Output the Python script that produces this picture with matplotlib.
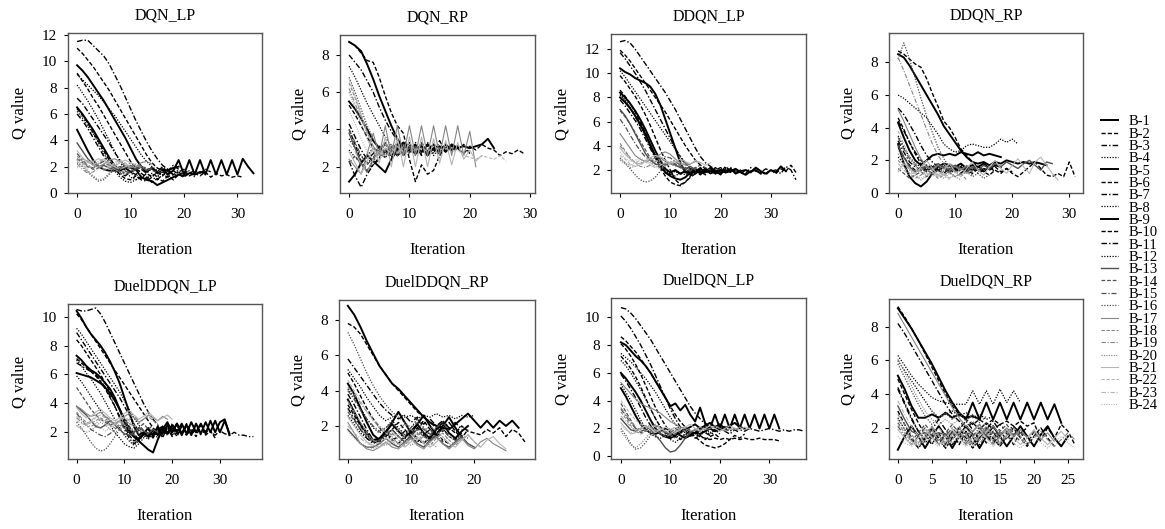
import matplotlib
matplotlib.use("Agg")
import matplotlib.pyplot as plt

# ---------------- data (Q value per iteration) ----------------

dqn_lp = [
    [9.7,9.3,8.8,8.2,7.6,7.0,6.3,5.6,4.9,4.2,3.4,2.6,2.0,1.6,1.9,1.5,1.8,1.4,1.7,2.5,1.4,2.5,1.4,2.5,1.4,2.5,1.4,2.5,1.4,2.5,1.4,2.6,2.0,1.5],
    [11.0,10.6,10.1,9.6,9.0,8.4,7.8,7.1,6.4,5.7,5.0,4.3,3.6,2.9,2.3,1.9,1.7,1.5,1.7,1.4,1.6,1.3,1.5,1.3,1.6,1.2,1.5,1.3,1.4,1.2,1.3,1.2],
    [11.5,11.6,11.6,11.2,10.8,10.4,9.8,9.0,8.2,7.3,6.4,5.5,4.7,3.9,3.2,2.6,2.1,1.8,1.9,1.6,1.8,1.5,1.7,1.5,1.8,1.6],
    [9.0,8.6,8.2,7.8,7.4,6.9,6.4,5.9,5.3,4.7,4.1,3.5,2.9,2.4,2.0,1.7,1.5,1.8,1.3,1.6,1.4,1.7,1.2],
    [4.8,4.0,3.2,2.5,2.0,1.8,1.7,1.7,1.8,2.0,1.9,1.8,2.0,1.7,1.9,1.6,1.8,1.7,1.9,2.0],
    [9.1,8.5,7.9,7.2,6.6,5.9,5.2,4.5,3.8,3.1,2.4,1.9,1.5,1.2,0.8,1.1,0.9,1.3,1.0,1.4,1.2,1.5],
    [7.2,6.8,6.2,5.6,5.0,4.4,3.8,3.1,2.5,2.0,1.6,1.3,1.0,0.9,1.2,1.0,1.4,1.2,1.5],
    [8.2,7.6,7.0,6.3,5.6,4.8,4.0,3.2,2.4,1.7,1.2,1.0,1.3,1.1,1.5,1.2,1.6,1.4],
    [6.5,6.0,5.4,4.8,4.1,3.4,2.7,2.1,1.7,1.9,1.6,1.8,1.2,1.0,0.9,0.6,0.8,1.0,1.2,1.4,1.3,1.5,1.4,1.6,1.5],
    [6.4,5.9,5.3,4.6,3.9,3.2,2.5,1.9,1.4,1.1,1.0,1.3,1.1,1.5,1.2,1.6,1.3,1.7,1.4,1.6],
    [6.0,5.5,4.9,4.2,3.5,2.8,2.2,1.8,1.5,1.3,1.6,1.4,1.8,1.5,1.9,1.6,2.0,1.7,2.1,1.8],
    [6.2,5.7,5.1,4.5,3.8,3.0,2.3,1.7,1.2,0.9,0.8,1.0,1.2,1.1,1.4,1.3,1.6],
    [3.8,3.2,2.6,2.2,2.0,2.1,1.9,1.8,2.0,1.9,2.1,1.8,2.0,1.7,1.9],
    [2.6,2.3,2.0,1.8,1.9,2.1,2.2,2.0,1.7,1.5,1.6,1.8,2.0,1.9,1.7,1.6,1.8],
    [3.0,2.5,2.1,1.9,2.2,2.4,2.2,1.9,1.6,1.4,1.6,1.9,2.1],
    [2.3,2.0,1.6,1.2,0.9,1.0,1.4,1.8,2.0,1.8,1.5,1.3,1.5],
    [2.5,2.6,2.4,2.1,2.0,2.2,2.5,2.6,2.4,2.1,1.9,2.0,2.3,2.4,2.2],
    [2.8,2.4,2.0,1.9,2.2,2.6,2.5,2.1,1.8,2.0,2.3,2.1,1.9],
    [2.2,1.8,1.5,1.6,1.9,2.2,2.1,1.8,1.6,1.7,2.0,2.2,2.0,1.8],
    [2.6,2.2,1.7,1.3,1.0,1.1,1.5,2.0,2.4,2.2,1.8,1.6],
    [3.2,2.7,2.3,2.4,2.6,2.5,2.2,2.0,2.3,2.5,2.3,2.1],
    [2.0,2.2,2.5,2.4,2.1,1.8,2.0,2.3,2.5,2.3,2.0],
    [2.4,2.1,1.9,2.1,2.4,2.6,2.3,2.0,1.8,2.0,2.2],
    [1.9,2.1,2.3,2.2,1.9,1.7,1.9,2.2,2.4,2.1,1.9],
]

dqn_rp = [
    [8.7,8.5,8.2,7.5,6.7,5.8,5.0,4.2,3.5,3.0,2.9,3.1,2.8,3.2,2.9,3.1,2.8,3.2,3.0,3.1,3.0,3.1,3.2,3.5,3.0],
    [8.7,8.5,8.1,7.7,7.6,6.8,5.8,4.9,4.2,3.8,2.4,1.2,2.1,1.6,1.8,2.6,3.2,2.8,3.0,2.7,3.1,2.9,3.2,3.0,2.9,2.6,2.8,2.7,2.9,2.7],
    [8.0,7.6,7.2,6.6,6.0,5.2,4.5,3.9,3.4,3.0,2.8,3.2,2.6,3.3,2.7,3.4,2.8,3.1,2.9,3.2,2.7],
    [7.4,6.8,6.1,5.4,4.8,4.2,3.6,3.1,2.8,3.2,2.7,3.3,2.8,3.1,2.6,3.0,2.9],
    [5.5,5.1,4.6,4.0,3.4,3.0,2.8,3.0,2.6,2.9,3.2,2.7,3.1,2.6,3.0,2.8,3.2,2.9,3.1],
    [5.3,4.8,4.2,3.6,3.0,2.7,2.5,2.9,3.2,2.6,3.0,2.7,3.3,2.8,3.1,2.6,3.0],
    [4.3,3.6,2.9,2.4,2.7,3.1,2.8,2.5,3.0,3.3,2.8,3.0,2.7,3.2,2.9],
    [2.9,2.5,2.2,2.6,3.0,2.8,3.2,2.7,3.1,2.9,3.3,2.6,3.0],
    [1.2,1.6,2.2,2.6,2.3,2.0,1.7,2.4,2.9,3.3,3.0,2.7,3.1,2.8,3.2,2.9,3.0,3.1],
    [4.0,3.2,2.3,1.8,2.1,2.5,2.9,2.6,3.0,2.8,3.2,2.9,3.1,2.7,3.0],
    [2.3,1.5,0.9,1.6,2.1,2.4,2.8,2.6,3.0,2.7,3.1,2.8],
    [3.5,3.0,2.6,2.2,2.5,2.9,3.3,2.8,3.1,2.6,3.0,3.2],
    [3.8,3.0,2.2,1.7,2.4,2.9,3.3,2.8,3.1,2.7,3.0,2.8,3.2],
    [2.2,2.6,2.1,1.8,2.3,2.8,3.2,2.9,3.3,2.7,3.1,2.8,3.0,2.9],
    [4.0,3.3,2.6,2.1,2.5,2.9,2.7,3.0,2.8,3.2,2.9,3.1,2.7],
    [6.8,6.0,5.1,4.2,3.5,3.0,2.6,2.9,3.2,2.7,3.0,2.8,3.3,2.9],
    [2.4,2.0,1.6,2.7,3.8,2.6,4.2,2.6,4.2,2.6,4.2,2.6,4.2,2.6,4.2,2.6,4.2,2.6,4.2,2.6,3.9,2.0],
    [6.5,5.7,4.8,3.9,3.1,2.6,2.9,3.2,2.8,3.1,2.7,3.0,2.9],
    [6.2,5.4,4.6,3.8,3.1,2.7,2.9,3.2,2.7,3.0,2.8,3.1],
    [6.0,5.2,4.3,3.5,2.8,2.4,2.8,3.1,2.6,2.9,2.7,3.0],
    [2.8,2.2,1.6,2.3,3.0,2.2,3.6,2.0,3.6,2.0,3.6,2.0,3.6,2.0,3.5,2.2,3.4,2.1,3.3,2.4,2.9,2.3,2.6],
    [6.7,5.8,4.8,3.8,3.0,2.6,3.0,2.7,3.1,2.8,3.2,2.9,3.0,2.8,3.1,2.9,3.0,2.8,2.9,2.6,2.5,2.4,2.6,2.5,2.4,2.6,2.3],
    [3.2,2.8,2.1,1.7,2.4,2.9,2.5,3.0,2.7,3.1],
    [5.0,4.3,3.5,2.8,2.3,2.6,3.0,2.7,3.1,2.8],
]

ddqn_lp = [
    [10.4,10.1,9.9,9.6,9.4,9.2,8.9,8.3,7.4,6.2,5.0,3.8,2.6,1.8,2.0,1.7,2.1,1.8,2.2,1.9,2.0,1.8,2.1,1.7,1.9,2.0,1.8,2.2,1.9,1.7,2.0,1.8,2.3,1.9],
    [11.9,11.5,11.0,10.4,9.8,9.2,8.6,8.0,7.4,6.8,6.1,5.4,4.7,4.0,3.4,2.8,2.4,2.1,1.9,2.2,1.8,2.3,1.9,2.1,1.7,2.0,1.8,2.2,1.9,1.6,2.0,1.7,2.1,1.9,2.4,1.8],
    [12.6,12.7,12.5,12.0,11.4,10.8,10.2,9.6,9.0,8.4,7.7,7.0,6.2,5.4,4.6,3.8,3.1,2.6,2.3,2.0,2.2,1.9,2.1,1.8,2.0,1.7,2.2,1.9,1.8,2.1,1.9,2.0,1.7,2.3,2.0,1.2],
    [10.2,9.7,9.1,8.5,7.9,7.3,6.7,6.1,5.5,4.9,4.3,3.7,3.1,2.6,2.2,2.0,1.8,2.1,1.7,2.0,1.8,2.2,1.9],
    [8.4,8.0,7.5,6.9,6.2,5.4,4.5,3.6,2.8,2.1,1.8,2.0,1.7,1.9,1.6,2.0,1.8,2.1,1.9,1.7,2.0,1.8,1.9,2.1,1.8,1.6,1.9,2.0,1.7],
    [9.8,9.3,8.7,8.1,7.4,6.6,5.7,4.7,3.7,2.8,2.0,1.2,0.8,1.0,1.5,1.9,1.6,2.0,1.7,1.9,1.6,2.1,1.8,2.0],
    [11.7,11.2,10.6,10.0,9.3,8.6,7.8,7.0,6.2,5.4,4.6,3.8,3.1,2.5,2.1,1.9,2.2,1.8,2.0,1.7,2.1,1.9,2.2,1.8],
    [8.2,7.7,7.1,6.4,5.6,4.8,3.9,3.1,2.4,1.9,1.7,1.5,1.8,1.6,1.9,2.1,1.8,2.0,1.7,1.9],
    [8.0,7.6,7.1,6.5,5.8,5.0,4.1,3.2,2.4,1.8,1.5,1.3,1.2,1.4,1.8,2.0,1.7,1.9,2.1,1.8,1.7,2.0],
    [8.6,8.1,7.5,6.8,6.0,5.1,4.1,3.1,2.2,1.5,1.0,0.8,0.7,1.0,1.4,1.7,1.9,1.6,2.0,1.8],
    [7.8,7.3,6.7,6.1,5.4,4.6,3.8,3.0,2.3,1.8,1.6,1.9,1.7,2.0,1.8,2.1,1.9,1.6],
    [8.3,7.8,7.2,6.5,5.7,4.9,4.0,3.2,2.5,2.0,1.7,1.9,1.6,2.0,1.8,2.2,1.9,2.1,1.7,2.0,1.8],
    [7.0,6.5,5.8,5.0,4.2,3.4,2.8,2.5,2.4,2.5,2.6,2.4,2.2,2.1,2.3,2.0],
    [6.9,6.4,5.8,5.1,4.4,3.7,3.0,2.5,2.2,2.4,2.6,2.5,2.3,2.1,1.9,2.2,2.4,2.2,2.0],
    [6.2,5.6,4.9,4.2,3.6,3.1,2.8,2.7,2.9,3.1,3.0,2.7,2.4,2.2,2.0,2.2],
    [3.0,2.6,2.1,1.6,1.2,1.0,1.1,1.4,1.9,2.4,2.7,2.5,2.2,2.0,1.9],
    [5.0,4.4,3.8,3.2,2.9,2.7,2.8,3.0,3.3,3.5,3.3,2.9,2.6,2.4,2.5,2.7,2.6],
    [4.2,3.6,3.0,2.6,2.5,2.7,3.0,3.2,3.0,2.7,2.5,2.6,2.8,2.6],
    [4.0,3.5,3.0,2.6,2.3,2.2,2.4,2.7,2.9,2.8,2.5,2.3,2.4,2.6,2.4],
    [2.8,2.5,2.2,2.3,2.6,2.8,2.6,2.3,2.1,2.3,2.6,2.7,2.5],
    [3.8,3.3,2.9,2.6,2.5,2.7,3.0,3.2,3.1,2.8,2.6,2.7,2.9,2.7,2.5,2.8,2.6,2.4,2.6],
    [3.2,2.9,2.5,2.3,2.4,2.7,2.9,2.8,2.5,2.3,2.5,2.7,2.6,2.3],
    [2.9,2.6,2.4,2.6,2.8,2.7,2.4,2.2,2.4,2.6,2.5],
    [3.5,3.0,2.7,2.8,3.0,2.8,2.5,2.6,2.8,2.6,2.4],
]

ddqn_rp = [
    [8.5,8.3,7.8,7.2,6.6,6.0,5.4,4.8,4.1,3.6,3.1,2.6,2.2,1.9,1.8,1.9,1.7,1.9,1.8,2.0,1.9,1.8,1.9,1.8,1.9,1.8,1.7],
    [8.7,8.5,8.2,7.9,7.7,7.0,6.1,5.3,4.4,4.0,3.4,2.7,2.3,1.9,1.6,1.5,1.4,1.6,1.3,1.5,1.2,1.0,1.3,1.6,1.9,1.5,1.1,1.0,1.2,1.0,1.9,1.0],
    [5.2,4.8,4.2,3.6,2.9,2.3,1.9,1.6,1.5,1.7,1.4,1.6,1.3,1.5,1.2,1.4,1.6,1.3],
    [6.0,5.8,5.5,5.2,4.9,4.6,4.1,3.6,3.0,2.7,2.5,2.6,2.9,3.0,2.9,2.8,2.8,3.0,3.3,3.1,3.3,3.0],
    [3.0,1.8,1.0,0.6,0.4,0.7,1.2,1.6,1.8,1.7,1.6,1.8,1.5,1.7,1.6,1.8,1.5,1.7,1.6],
    [4.6,3.9,3.1,2.4,1.8,1.4,1.2,1.4,1.6,1.3,1.5,1.2,1.6,1.4,1.7,1.3,1.5],
    [4.4,3.8,3.1,2.5,2.0,1.7,1.6,1.8,1.5,1.7,1.4,1.6,1.5,1.8,1.4],
    [3.5,2.8,2.2,1.8,1.6,1.4,1.6,1.3,1.5,1.2,1.4,1.6,1.3,1.5],
    [4.3,3.4,2.6,2.0,1.7,2.0,2.3,2.4,2.3,2.4,2.3,2.5,2.4,2.3,2.5,2.3,2.4,2.3,2.2],
    [2.8,2.2,1.7,1.4,1.5,1.3,1.6,1.4,1.2,1.5,1.3,1.6,1.4,1.2,1.5,1.3,1.1,1.4,1.2,1.5,1.3],
    [3.2,2.5,1.9,1.6,1.4,1.5,1.7,1.4,1.6,1.3,1.5,1.7,1.4,1.6,1.3,1.5],
    [2.2,1.8,1.5,1.3,1.6,1.4,1.2,1.5,1.7,1.4,1.6,1.3],
    [2.9,2.2,1.6,1.3,1.4,1.6,1.5,1.8,1.6,1.4,1.7,1.5,1.3,1.6,1.4,1.7,1.5,1.8,1.6,1.9,1.7,1.5,1.8,2.0,1.7,1.4,1.9,1.8],
    [1.5,1.2,0.9,1.1,1.3,1.0,1.2,1.4,1.1,1.3,1.0,1.2,1.4,1.1],
    [3.4,2.7,2.1,1.7,1.5,1.7,1.4,1.6,1.3,1.5,1.7,1.4,1.6,1.3],
    [8.2,9.2,8.2,7.0,5.8,4.7,3.7,2.8,2.1,1.6,1.3,1.1,1.3,1.0,1.2,0.9,1.1],
    [5.1,4.4,3.6,2.8,2.1,1.6,1.4,1.7,1.5,1.8,1.6,1.4,1.7,1.5],
    [2.0,1.6,1.2,0.9,1.1,1.4,1.2,0.9,1.1,1.3,1.0,1.2,0.8],
    [8.3,7.5,6.6,5.7,4.8,3.9,3.0,2.3,1.8,1.5,1.3,1.5,1.2,1.4],
    [2.4,1.9,1.4,1.1,0.8,1.0,1.3,1.1,0.9,1.2,1.0,0.8],
    [1.3,1.8,1.5,1.2,1.6,2.0,1.5,1.1,1.4,1.8,1.3,1.0,1.5,1.9,1.4,1.1,1.6,2.0,1.5,1.2,1.7,2.1,1.6,1.2,1.9,2.2,1.7,1.2,0.8],
    [3.8,3.0,2.2,1.6,1.3,1.1,1.3,1.0,1.2,0.9,1.1],
    [1.8,1.4,1.1,1.3,1.5,1.2,1.0,1.3,1.1,0.9,1.2],
    [2.6,2.0,1.5,1.1,0.9,1.1,1.3,1.0,1.2,0.8],
]

dueldddqn_lp = [
    [7.3,7.0,6.6,6.3,6.1,5.8,5.4,5.0,4.4,3.6,2.7,2.0,1.7,1.4,1.1,0.8,0.6,1.5,2.2,2.7,2.0,2.6,1.9,2.5,1.8,2.6,1.9,2.7,2.0,2.8,2.0,2.8,1.9],
    [10.2,9.8,9.3,8.8,8.3,7.8,7.3,6.8,6.3,5.8,5.3,4.8,4.3,3.8,3.3,2.8,2.3,2.0,2.4,1.8,2.3,1.7,2.4,1.9,2.2,1.7,2.5,1.8,2.1,1.6],
    [10.5,10.4,10.4,10.5,10.6,10.2,9.6,8.9,8.2,7.5,6.8,6.1,5.4,4.7,4.0,3.4,2.9,2.5,2.2,2.0,2.3,1.9,2.1,1.8,2.2,2.0,1.9,2.1,2.0,1.8,2.1,1.9,1.8,2.0,1.8,1.8,1.7,1.7],
    [9.2,8.8,8.3,7.8,7.3,6.8,6.3,5.8,5.3,4.8,4.2,3.6,3.0,2.5,2.1,1.8,2.2,1.9,2.4,2.0,2.6,2.1,2.5],
    [10.4,9.9,9.3,8.8,8.4,8.0,7.5,6.9,6.2,5.4,4.4,3.4,2.4,1.8,2.0,1.7,2.2,1.8,2.4,1.9,2.5,2.0,2.6,1.9,2.7,2.0,2.6,1.9,2.8,2.0,2.7,2.9,1.8],
    [8.4,8.0,7.5,7.0,6.5,6.0,5.4,4.8,4.2,3.6,3.0,2.4,1.9,1.5,1.8,2.2,1.7,2.3,1.6,2.4,1.8,2.5,1.9,2.6,2.0,2.5,1.8],
    [8.9,8.4,7.9,7.4,6.9,6.4,5.9,5.4,4.9,4.4,3.8,3.2,2.6,2.1,1.8,2.0,1.6,2.2,1.8,2.3,1.7,2.2],
    [7.0,6.6,6.1,5.7,5.2,4.7,4.1,3.5,2.9,2.3,1.8,1.4,1.1,1.4,1.8,1.5,2.0,1.6,2.1,1.8],
    [6.1,6.0,5.9,5.8,5.6,5.4,5.1,4.7,4.2,3.6,2.9,2.2,1.7,1.5,1.9,2.3,1.8,2.4,1.9,2.5,2.0,2.6,1.8,2.5],
    [7.1,6.8,6.5,6.2,5.9,5.5,5.0,4.4,3.8,3.1,2.4,1.8,1.4,1.6,2.0,1.7,2.2,1.8,2.4,1.9,2.3],
    [6.8,6.6,6.4,6.2,6.0,5.6,5.1,4.5,3.8,3.0,2.2,1.6,1.2,1.5,1.9,1.6,2.1,1.8,2.2],
    [5.9,5.5,5.0,4.5,4.0,3.5,3.0,2.5,2.0,1.6,1.2,1.0,0.9,1.2,1.6,2.0,1.7,2.1,1.9],
    [3.8,3.5,3.2,2.8,2.4,2.3,2.5,2.8,2.5,2.2,1.9,1.8,2.0,2.3,2.1,1.9,2.2,2.0],
    [5.1,4.6,4.1,3.6,3.2,2.9,2.7,2.5,2.6,2.8,2.5,2.2,2.0,2.3,2.6,2.2,2.5],
    [3.3,2.9,2.5,2.2,2.0,1.8,1.7,1.9,2.2,2.5,2.3,2.0,1.8,2.1,2.3],
    [2.7,2.3,1.8,1.3,0.9,0.7,0.8,1.2,1.7,2.2,2.5,2.4,2.1,1.9,2.2],
    [3.8,3.6,3.3,3.1,3.2,3.4,3.1,2.8,2.6,2.8,3.1,3.3,3.0,2.7,2.9,3.2,3.0,2.8,3.1,2.9],
    [3.4,3.0,2.7,2.6,2.8,3.0,2.8,2.5,2.3,2.5,2.8,2.6,2.4,2.6,2.9,3.1,2.8,2.6],
    [3.0,2.7,2.5,2.4,2.6,2.9,3.1,2.9,2.6,2.4,2.6,2.9,3.1,2.8],
    [2.5,2.2,2.0,2.1,2.4,2.7,2.5,2.2,2.0,2.2,2.5,2.7,2.4],
    [3.7,3.3,3.0,3.1,3.4,3.6,3.3,3.0,2.8,3.0,3.3,3.5,3.2,2.9,3.1,3.4,3.1,2.8,3.0,3.2,2.9],
    [2.8,2.6,2.5,2.7,3.0,3.2,3.0,2.7,2.5,2.7,3.0,2.8],
    [3.1,2.8,2.6,2.8,3.1,2.9,2.6,2.4,2.6,2.9,3.1,2.8,2.5],
    [2.4,2.3,2.5,2.8,2.6,2.3,2.1,2.3,2.6,2.8,2.5,2.3],
]

dueldddqn_rp = [
    [8.8,8.3,7.6,6.8,6.1,5.4,4.9,4.4,4.1,3.7,3.3,2.9,2.5,2.2,2.0,1.9,1.8,2.1,2.4,2.7,2.3,1.9,2.3,1.9,2.3,2.0,2.3,1.9],
    [7.8,7.6,7.2,6.6,6.0,5.4,4.9,4.4,4.0,3.6,3.2,2.8,2.5,2.2,1.9,1.7,1.9,1.6,2.0,1.7,1.6,1.5,1.8,1.6,1.9,1.4,1.8,1.6,1.1],
    [5.8,5.3,4.8,4.3,3.8,3.3,2.9,2.6,2.4,2.6,2.2,2.5,2.1,2.4,2.0,2.3,1.9,2.2,1.8],
    [5.2,4.7,4.2,3.6,3.1,2.6,2.3,2.5,2.7,2.5,2.6,2.4,2.6,2.5,2.7,2.5,2.6,2.4,2.6,2.5,2.6],
    [4.4,3.8,3.0,2.2,1.5,1.2,1.6,2.2,2.8,2.2,1.6,2.1,2.6,2.0,1.5,2.0,2.5,1.9,1.4],
    [5.0,4.4,3.7,3.0,2.4,1.9,1.5,1.8,2.2,1.8,1.4,1.9,2.3,1.8,1.4,1.9,2.2,1.7,1.3,1.8],
    [3.8,3.2,2.5,1.8,1.2,1.1,1.4,1.8,1.4,1.1,1.5,1.9,1.5,1.1,1.6,1.9,1.4,1.2,1.6],
    [4.1,3.6,3.0,2.4,1.9,1.6,1.9,2.3,1.9,1.5,1.9,2.4,1.9,1.5,1.9,2.3,1.8],
    [3.5,2.8,2.1,1.6,1.2,1.3,1.7,2.1,1.7,1.3,1.7,2.1,1.6,1.3,1.8,2.2,1.6,1.3,1.7,2.0],
    [3.2,2.6,2.0,1.5,1.1,1.3,1.6,1.3,1.0,1.4,1.7,1.3,1.0,1.4,1.7,1.2,1.0],
    [3.0,2.4,1.8,1.3,1.0,1.2,1.5,1.2,1.4,1.7,1.3,1.1,1.5,1.8,1.4,1.1],
    [2.6,2.1,1.6,1.3,1.1,1.3,1.6,1.3,1.0,1.4,1.6,1.2,1.0,1.3],
    [1.8,1.4,1.0,0.8,0.8,1.0,1.3,1.0,0.8,1.1,1.4,1.0,0.8,1.2,1.4,1.0,0.8,1.1,1.4,1.0,0.8],
    [2.8,2.3,1.8,1.4,1.1,1.2,1.5,1.8,1.4,1.1,1.5,1.8,1.4,1.2,1.5,1.8,1.4],
    [4.0,3.5,2.9,2.4,2.0,1.7,1.9,2.2,1.8,1.5,1.9,2.2,1.8,1.5,1.9,2.2,1.7],
    [7.3,6.6,5.8,5.0,4.3,3.7,3.2,2.8,2.5,2.2,1.9,1.6,1.4,1.6,1.3,1.1,1.4,1.2,1.5,1.3],
    [2.2,1.6,1.0,0.7,0.6,0.8,1.1,0.8,0.7,1.0,1.3,0.9,0.7,1.1,1.4,1.0,0.7,1.0,1.3,0.9,0.7,1.1,1.3,1.0,0.8,0.6],
    [3.4,2.8,2.2,1.6,1.2,1.0,1.3,1.6,1.2,0.9,1.3,1.6,1.1,0.9,1.3,1.6,1.2,0.9,1.2,1.5,1.1,0.8],
    [4.2,3.8,3.3,2.8,2.4,2.0,1.7,1.5,1.8,2.1,1.8,1.5,1.7,2.0,1.7,1.4],
    [2.9,2.4,1.9,1.5,1.2,1.0,0.9,1.1,1.4,1.1,0.9,1.2,1.4,1.1,0.8],
    [2.5,2.0,1.5,1.1,0.9,0.8,1.0,1.3,1.0,0.8,1.1,1.4,1.0,0.8,1.1,1.4,1.0,0.8,1.2,1.5,1.1,0.8,1.2,1.4,1.0,0.7],
    [4.6,4.0,3.4,2.8,2.3,1.9,1.6,1.4,1.6,1.3,1.5,1.2,1.4],
    [2.0,1.6,1.3,1.0,0.9,1.1,1.3,1.1,0.9,1.2,1.0],
    [1.7,1.3,1.0,0.8,0.7,0.9,1.1,0.9,0.7,1.0,1.2,0.9,0.7],
]

dueldqn_lp = [
    [8.2,8.0,7.6,7.2,6.9,6.5,6.0,5.4,4.8,4.2,3.6,3.8,3.3,3.7,3.0,2.5,3.5,2.4,2.0,3.0,2.0,3.0,2.0,3.0,2.0,3.0,2.0,3.0,2.0,3.0,2.0,3.0,2.0],
    [8.6,8.3,7.9,7.5,7.0,6.5,6.0,5.4,4.8,4.2,3.6,3.0,2.5,2.1,1.8,1.6,1.4,1.3,1.2,1.3,1.2,1.3,1.2,1.3,1.2,1.3,1.2,1.2,1.3,1.2,1.2,1.2,1.1],
    [10.7,10.6,10.3,9.9,9.4,8.9,8.4,7.8,7.2,6.6,6.0,5.4,4.8,4.2,3.6,3.1,2.7,2.3,2.0,1.9,2.1,2.0,1.8,2.0,1.9,1.8,2.0,1.9,1.8,1.9,2.0,1.9,1.8,1.9,1.8,1.9,1.9,1.8],
    [7.4,7.1,6.8,6.4,6.0,5.6,5.1,4.6,4.0,3.4,2.8,2.3,1.9,1.7,1.5,1.8,1.6,2.0,1.7,1.9,1.6],
    [6.0,5.6,5.1,4.6,4.0,3.3,2.6,2.0,1.6,1.4,1.3,1.5,1.7,1.9,2.1,2.3,2.0,2.2,2.4,2.1,2.3,2.0,2.2,2.4,2.1,2.0],
    [7.2,6.8,6.3,5.7,5.0,4.2,3.4,2.7,2.1,1.7,1.5,1.6,1.8,2.0,1.7,1.4,1.1,0.8,0.7,0.6,0.7,0.9,1.2,1.5,1.3,1.6],
    [10.1,9.7,9.2,8.6,8.0,7.3,6.6,5.8,5.0,4.2,3.4,2.7,2.1,1.8,1.6,1.7,1.9,1.7,1.5,1.8,2.0,1.8,1.6,1.9,1.7],
    [6.9,6.5,6.0,5.4,4.8,4.1,3.4,2.7,2.1,1.6,1.2,1.0,1.3,1.6,1.4,1.7,1.5,1.8,1.6,1.9],
    [4.9,4.3,3.6,2.9,2.3,1.9,1.7,1.6,1.8,2.0,1.9,1.7,1.5,1.3,1.5,1.7,1.6,1.8,2.0,1.8,1.9,2.1],
    [8.1,7.7,7.2,6.6,5.9,5.1,4.3,3.5,2.8,2.2,1.7,1.4,1.2,1.4,1.6,1.3,1.5,1.2,1.4,1.6,1.3],
    [5.9,5.4,4.8,4.2,3.5,2.8,2.2,1.8,1.6,1.5,1.4,1.6,1.8,2.0,1.8,1.6,1.9,2.1,1.9],
    [5.2,4.6,4.0,3.3,2.6,2.0,1.6,1.4,1.3,1.5,1.7,1.5,1.3,1.6,1.8,1.6],
    [2.7,2.3,1.9,1.8,2.0,2.2,1.9,1.5,1.1,0.6,0.3,0.4,0.8,1.3,1.7,1.9,1.8],
    [3.8,3.2,2.6,2.0,1.7,1.8,2.0,2.2,2.0,1.7,1.5,1.6,1.9,2.1,1.9],
    [3.4,2.9,2.4,2.0,1.8,1.9,2.1,1.9,1.6,1.5,1.7,2.0,1.8],
    [2.0,1.5,0.9,0.5,0.6,1.0,1.5,1.9,2.1,1.8,1.5,1.3,1.6,1.9],
    [5.3,4.9,4.5,4.1,3.8,3.6,3.5,3.3,3.1,2.8,2.5,2.3,2.1,2.0,1.8,1.9,2.1,1.9,2.0,2.2,2.0,1.8,2.0,1.9,2.1,1.9,2.0],
    [3.2,2.7,2.2,1.8,1.6,1.8,2.1,2.3,2.1,1.8,1.6,1.8,2.0,1.8],
    [3.5,3.0,2.5,2.1,1.9,2.0,2.3,2.1,1.8,1.7,1.9,2.1,1.9],
    [1.8,1.3,0.8,0.6,0.9,1.3,1.7,1.9,1.7,1.4,1.6,1.9,1.7],
    [2.4,2.0,1.6,1.7,2.0,2.2,2.0,1.7,1.9,2.1,1.9,1.7,1.9,2.1,2.3,2.0,1.8,2.0,2.2,2.0,1.8,2.0,2.2,2.0,1.9,2.1,2.0],
    [4.0,3.5,3.0,2.6,2.3,2.1,2.0,2.2,2.0,1.8,1.9,2.1,1.9],
    [2.9,2.5,2.1,1.9,2.0,2.2,2.0,1.8,1.9,2.1,1.9,1.7],
    [2.2,1.9,1.7,1.8,2.0,1.9,1.7,1.8,2.0,1.8],
]

dueldqn_rp = [
    [9.1,8.5,7.9,7.2,6.5,5.8,5.0,4.2,3.5,2.9,2.5,3.5,2.5,3.5,2.5,3.5,2.5,3.5,2.5,3.5,2.5,3.5,2.5,3.4,2.3],
    [9.2,8.6,7.9,7.2,6.4,5.6,4.8,4.0,3.3,2.8,2.5,2.2,2.5,2.2,2.5,2.2,2.4,2.1,2.4,2.1,2.3,1.3,2.0,1.4,2.2,1.8,1.0],
    [8.2,7.6,6.9,6.2,5.5,4.8,4.1,3.4,2.8,2.4,2.0,2.3,1.9,2.3,1.9,2.2,1.8,2.1,1.7,2.0],
    [6.3,5.7,5.1,4.6,4.2,3.8,3.6,3.5,3.4,3.4,3.4,4.2,3.4,4.2,3.4,4.3,3.5,4.2,3.5],
    [5.1,4.3,3.3,2.6,2.6,2.8,2.6,2.9,2.6,2.8,2.6,2.7,2.5],
    [4.9,4.0,3.1,2.3,1.6,1.0,1.7,1.0,1.8,1.0,1.8,1.0,1.8,1.1,1.8,1.0,1.7,1.0,1.8,1.0,1.8,1.2],
    [4.4,3.5,2.6,1.8,1.1,1.6,1.0,1.7,1.0,1.6,1.0,1.7,1.0,1.6,1.0,1.7],
    [6.0,5.4,4.8,4.2,3.6,3.0,2.6,2.8,3.0,2.7,2.9,2.6,2.8,2.5,2.7],
    [0.7,1.5,2.1,1.5,0.8,1.5,2.1,1.5,0.8,1.5,2.1,1.5,0.8,1.5,2.1,1.5,0.9,1.5,2.1,1.5,0.9,1.6,2.1,1.4,0.9,1.5],
    [3.0,2.2,1.4,0.8,1.4,2.0,1.4,0.8,1.4,2.0,1.4,0.8,1.4,2.0,1.4,0.9,1.5,2.0,1.4,0.9,1.5,2.0,1.4,0.9],
    [4.3,3.4,2.5,1.8,1.3,1.9,2.5,1.9,1.3,1.9,2.4,1.9,1.3,1.9,2.4,1.8,1.3,1.9],
    [2.6,1.9,1.3,0.8,1.3,1.8,1.3,0.8,1.3,1.8,1.3,0.8,1.3,1.8,1.3,0.9],
    [3.3,2.5,1.8,1.6,1.7,1.6,1.7,1.6,1.7,1.6,1.7,1.6,1.7,1.6,1.7,1.6,1.8,1.6,1.7,1.5],
    [2.3,1.7,1.2,1.7,2.2,1.7,1.2,1.7,2.2,1.7,1.2,1.8,2.2,1.7,1.2,1.8,2.2,1.6,1.2],
    [2.1,1.5,1.0,1.5,2.0,1.5,1.0,1.5,2.0,1.5,1.0,1.5,2.0,1.5,1.0,1.5],
    [5.8,5.0,4.2,3.4,2.7,2.2,2.6,2.9,2.5,2.9,2.4,2.8,2.3,2.7],
    [8.8,8.1,7.4,6.7,6.0,5.3,4.6,3.9,3.2,2.6,2.1,1.8,2.2,1.7,2.1,1.6,2.0,1.5,1.9,1.4,1.8,1.3,1.7,1.2],
    [2.8,2.2,1.6,1.1,1.6,2.1,1.6,1.1,1.6,2.1,1.6,1.1,1.6,2.1,1.6,1.1,1.6,2.0,1.5,1.0],
    [2.5,1.9,1.4,1.0,1.5,2.0,1.5,1.0,1.5,2.0,1.5,1.0,1.5,2.0,1.5,1.0,1.5,1.9,1.4,1.0,1.4,1.8,1.3,0.9,1.3,1.7,1.3],
    [6.1,5.3,4.5,3.7,3.0,2.5,2.2,2.5,2.2,2.5,2.1,2.4,2.0,2.3],
    [1.9,1.4,1.0,1.4,1.9,1.4,1.0,1.4,1.9,1.4,1.0,1.4,1.9,1.4,1.0,1.4,1.9,1.4,1.0,1.4,1.9,1.4,1.0,1.4,1.8,1.3],
    [2.2,1.7,1.2,0.9,1.3,1.8,1.3,0.9,1.3,1.8,1.3,0.9,1.3,1.8,1.2],
    [3.6,2.8,2.1,1.5,1.1,1.5,2.0,1.5,1.1,1.5,2.0,1.5,1.1,1.5,1.9],
    [1.5,1.1,0.9,1.2,1.6,1.2,0.9,1.2,1.6,1.2,0.9,1.2,1.6,1.2,0.9,1.2,1.6,1.1,0.8,1.2,1.5,1.1,0.8,1.2,1.5,1.1,0.8],
]

titles = ["DQN_LP", "DQN_RP", "DDQN_LP", "DDQN_RP",
          "DuelDDQN_LP", "DuelDDQN_RP", "DuelDQN_LP", "DuelDQN_RP"]
panels = [dqn_lp, dqn_rp, ddqn_lp, ddqn_rp, dueldddqn_lp, dueldddqn_rp, dueldqn_lp, dueldqn_rp]
labels = ["B-" + str(i) for i in range(1, 25)]

xticks = [[0,10,20,30]]*5 + [[0,10,20], [0,10,20,30], [0,5,10,15,20,25]]
yticks = [[0,2,4,6,8,10,12], [2,4,6,8], [2,4,6,8,10,12], [0,2,4,6,8],
          [2,4,6,8,10], [2,4,6,8], [0,2,4,6,8,10], [2,4,6,8]]
xlims = [(-1.7,34.6), (-1.5,30.8), (-1.8,37.0), (-1.6,32.4),
         (-1.8,38.8), (-1.4,29.6), (-2.0,37.4), (-1.3,27.2)]
ylims = [(0,12.15), (0.59,9.07), (0.1,13.24), (0,9.8),
         (0.15,10.88), (0.13,9.13), (-0.2,11.39), (0.15,9.65)]

# axes boxes in pixels: left, top, right, bottom
boxes = [(68,33,262,193), (340,35,535,193), (611,34,806,193), (889,33,1083,193),
         (68,304,262,459), (339,300,535,459), (611,298,806,459), (889,299,1083,459)]

# ---------------- style ----------------
W, H = 1165, 529
plt.rcParams['font.family'] = ['Liberation Serif', 'DejaVu Serif']

colors = ['black']*12 + ['#505050']*4 + ['#858585']*4 + ['#b5b5b5']*4
styles = ['-', (0,(3,1.5)), (0,(4,1.5,1,1.5)), (0,(1,1.2))]*6
widths = [1.4,1.0,1.0,0.9]*3 + [1.0,0.9,0.9,0.9] + [0.8]*8

fig = plt.figure(figsize=(W/100, H/100), dpi=100)

for k in range(8):
    l, t, r, b = boxes[k]
    ax = fig.add_axes([l/W, 1-b/H, (r-l)/W, (b-t)/H])
    for i, ys in enumerate(panels[k]):
        ax.plot(range(len(ys)), ys, color=colors[i], linestyle=styles[i],
                linewidth=widths[i], label=labels[i])
    ax.set_xlim(xlims[k])
    ax.set_ylim(ylims[k])
    ax.set_xticks(xticks[k])
    ax.set_yticks(yticks[k])
    ax.set_title(titles[k], fontsize=11.5, pad=10)
    ax.set_xlabel("Iteration", fontsize=12, labelpad=15)
    ax.set_ylabel("Q value", fontsize=12, labelpad=10)
    ax.tick_params(axis='x', direction='out', length=3, width=0.8, labelsize=11, pad=8)
    ax.tick_params(axis='y', direction='out', length=3, width=0.8, labelsize=11, pad=5)
    for s in ax.spines.values():
        s.set_color('#555555')
        s.set_linewidth(1.0)
    if k == 0:
        handles = ax.get_lines()

fig.legend(handles, labels, loc='center left', bbox_to_anchor=(1101/W, 1-263.5/H),
           frameon=False, fontsize=10.5, labelspacing=-0.06, handlelength=1.17,
           handletextpad=0.7, borderpad=0, borderaxespad=0)

fig.savefig("out.png", dpi=100)
